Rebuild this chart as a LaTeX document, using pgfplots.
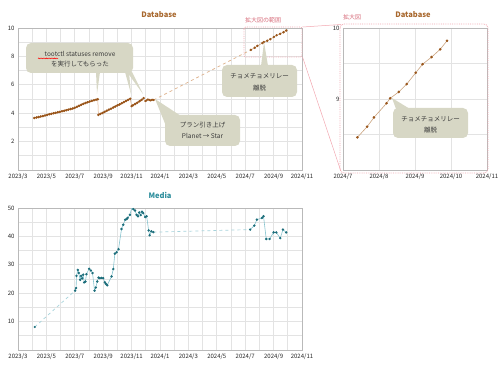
\documentclass[border=0pt]{standalone}
\usepackage{pgfplots}
\pgfplotsset{compat=1.18}
\usepackage{fontspec}
\setmainfont{Noto Sans CJK JP}
\usetikzlibrary{decorations.pathmorphing}
\definecolor{brn}{HTML}{9A561B}
\definecolor{brnline}{HTML}{A8642C}
\definecolor{brnlight}{HTML}{DDB08A}
\definecolor{brnzoom}{HTML}{C9A27E}
\definecolor{brntitle}{HTML}{A8682E}
\definecolor{tealmk}{HTML}{1D6E7B}
\definecolor{tealline}{HTML}{86C3CE}
\definecolor{teallight}{HTML}{A6D3DB}
\definecolor{tealtitle}{HTML}{2A8C9B}
\definecolor{pinkb}{HTML}{F2A7B0}
\definecolor{pinkt}{HTML}{D8707E}
\definecolor{callout}{HTML}{D7D7C5}
\definecolor{ctext}{HTML}{3A3A3A}
\pgfplotsset{
  base/.style={
    scale only axis, width=284pt, height=142pt,
    axis line style={draw=gray!55, line width=0.6pt},
    grid=both,
    major grid style={draw=gray!22, line width=0.7pt},
    minor grid style={draw=gray!22, line width=0.7pt},
    tick style={draw=none},
    tick label style={font=\fontsize{6}{7}\selectfont, text=black!85},
    /pgf/number format/assume math mode=true,
  },
  longx/.style={
    xmin=2, xmax=22,
    xtick={2,4,...,22}, minor xtick={3,5,...,21},
    xticklabels={2023/3,2023/5,2023/7,2023/9,2023/11,2024/1,2024/3,2024/5,2024/7,2024/9,2024/11},
  },
}
\tikzset{ct/.style={font=\fontsize{6.5}{8}\selectfont, text=ctext, anchor=base, inner sep=0pt}}
\begin{document}
\begin{tikzpicture}
\path[use as bounding box] (0,0) rectangle (500pt,375pt);

% ---------- Database (full) ----------
\begin{axis}[base, longx, at={(18pt,205pt)}, anchor=south west,
  ymin=0, ymax=10, ytick={2,4,6,8,10}, minor ytick={1,3,5,7,9}]
\addplot[brnline, line width=0.9pt, mark=*, mark size=0.75pt, mark options={fill=brn, draw=brn}] coordinates {
(3.15,3.66) (3.30,3.70) (3.45,3.73) (3.60,3.77) (3.75,3.80) (3.90,3.84)
(4.05,3.88) (4.20,3.92) (4.35,3.96) (4.50,4.00) (4.65,4.03) (4.80,4.07)
(4.95,4.10) (5.10,4.14) (5.25,4.17) (5.40,4.21) (5.55,4.25) (5.70,4.29)
(5.85,4.33) (6.00,4.38) (6.15,4.45) (6.30,4.52) (6.45,4.59) (6.60,4.66)
(6.75,4.72) (6.90,4.77) (7.05,4.82) (7.20,4.87) (7.35,4.91) (7.50,4.95)
(7.62,4.98)
};
\addplot[brnlight, line width=0.5pt] coordinates {(7.62,4.98) (7.66,3.88)};
\addplot[brnline, line width=0.9pt, mark=*, mark size=0.75pt, mark options={fill=brn, draw=brn}] coordinates {
(7.66,3.88) (7.80,3.95) (7.95,4.02) (8.10,4.10) (8.25,4.17) (8.40,4.25)
(8.55,4.32) (8.70,4.40) (8.85,4.47) (9.00,4.55) (9.15,4.62) (9.30,4.70)
(9.45,4.78) (9.60,4.86) (9.75,4.94) (9.90,5.02)
};
\addplot[brnlight, line width=0.5pt] coordinates {(9.90,5.02) (10.00,4.50)};
\addplot[brnline, line width=0.9pt, mark=*, mark size=0.75pt, mark options={fill=brn, draw=brn}] coordinates {
(10.00,4.50) (10.10,4.56) (10.25,4.65) (10.40,4.74) (10.55,4.84) (10.70,4.94) (10.85,5.06)
};
\addplot[brnline, line width=0.6pt, mark=*, mark size=0.75pt, mark options={fill=brn, draw=brn}] coordinates {
(10.97,4.86) (11.05,4.90) (11.15,4.97) (11.25,4.93) (11.35,4.90) (11.45,4.95) (11.55,4.93)
};
\addplot[brnlight, line width=0.7pt, dashed] coordinates {(11.55,4.93) (18.40,8.46)};
\addplot[brnzoom, line width=0.6pt, mark=*, mark size=0.9pt, mark options={fill=brn, draw=brn}] coordinates {
(18.40,8.46) (18.67,8.61) (18.86,8.74) (19.21,8.94) (19.31,9.01) (19.55,9.10)
(19.77,9.21) (20.02,9.37) (20.21,9.49) (20.46,9.59) (20.70,9.70) (20.89,9.82)
};
\end{axis}

% ---------- Database (zoom) ----------
\begin{axis}[base, at={(343pt,205pt)}, anchor=south west, width=144pt,
  xmin=18, xmax=22, xtick={18,19,20,21,22},
  xticklabels={2024/7,2024/8,2024/9,2024/10,2024/11},
  ymin=8, ymax=10, ytick={9,10}, minor ytick={8.5,9.5}]
\addplot[brnzoom, line width=0.6pt, mark=*, mark size=1pt, mark options={fill=brn, draw=brn}] coordinates {
(18.40,8.46) (18.67,8.61) (18.86,8.74) (19.21,8.94) (19.31,9.01) (19.55,9.10)
(19.77,9.21) (20.02,9.37) (20.21,9.49) (20.46,9.59) (20.70,9.70) (20.89,9.82)
};
\end{axis}

% ---------- Media ----------
\begin{axis}[base, longx, at={(18pt,25pt)}, anchor=south west,
  ymin=0, ymax=50, ytick={10,20,30,40,50}, minor ytick={5,15,25,35,45}]
\addplot[teallight, line width=0.7pt, dashed] coordinates {(3.18,8.1) (6.02,20.9)};
\addplot[teallight, line width=0.7pt, dashed] coordinates {(11.53,41.5) (18.35,42.4)};
\addplot[only marks, mark=*, mark size=0.9pt, mark options={fill=tealmk, draw=tealmk}] coordinates {(3.18,8.1)};
\addplot[tealline, line width=0.6pt, mark=*, mark size=0.9pt, mark options={fill=tealmk, draw=tealmk}] coordinates {
(6.02,20.9) (6.09,21.8) (6.12,26.1) (6.21,28.2) (6.28,27.1) (6.38,24.7)
(6.45,26.1) (6.52,25.2) (6.59,26.5) (6.66,23.8) (6.75,24.1) (6.82,26.7)
(7.01,28.6) (7.13,28.0) (7.25,27.1) (7.39,20.9) (7.48,22.0) (7.58,24.1)
(7.67,25.5) (7.76,25.3) (7.88,25.4) (8.00,25.3) (8.12,23.8) (8.19,23.3)
(8.28,22.8) (8.59,25.9) (8.71,28.5) (8.82,33.9) (8.94,34.4) (9.08,35.5)
(9.29,42.6) (9.41,44.1) (9.55,45.9) (9.65,46.1) (9.72,46.5) (9.88,47.6)
(10.02,50.2) (10.12,49.6) (10.24,49.1) (10.35,47.6) (10.45,47.1) (10.54,48.4)
(10.64,47.5) (10.73,48.7) (10.82,48.2) (10.96,46.8) (11.06,47.1) (11.20,42.1)
(11.27,40.4) (11.39,41.8) (11.53,41.5)
};
\addplot[tealline, line width=0.6pt, mark=*, mark size=0.9pt, mark options={fill=tealmk, draw=tealmk}] coordinates {
(18.35,42.4) (18.64,43.8) (18.82,45.9) (19.18,46.5) (19.29,47.1) (19.48,39.1)
(19.72,39.1) (20.00,41.4) (20.19,41.4) (20.47,39.4) (20.66,42.4) (20.89,41.4)
};
\end{axis}

% ---------- annotations in pixel coordinates ----------
\begin{scope}[yshift=375pt, x=1pt, y=-1pt]
  % titles
  \node[font=\fontsize{7.5}{9}\selectfont\bfseries, text=brntitle] at (159,15) {Database};
  \node[font=\fontsize{7.5}{9}\selectfont\bfseries, text=brntitle] at (413,15) {Database};
  \node[font=\fontsize{7.5}{9}\selectfont\bfseries, text=tealtitle] at (160,195) {Media};
  % zoom region markers
  \draw[pinkb, line width=0.8pt, densely dotted, rounded corners=2pt] (244,27) rectangle (302,57);
  \draw[pinkb, line width=0.8pt, densely dotted, rounded corners=4pt] (340,24) rectangle (488,173);
  \draw[pinkb, line width=0.5pt] (302.5,27) -- (341,24.5);
  \draw[pinkb, line width=0.5pt] (302.5,57) -- (340.5,170);
  \node[font=\fontsize{6}{7}\selectfont, text=pinkt] at (263,20) {拡大図の範囲};
  \node[font=\fontsize{6}{7}\selectfont, text=pinkt] at (352,17) {拡大図};
  % callout 1
  \fill[callout] (96,72) -- (97,94) -- (100,72) -- cycle;
  \fill[callout] (125,72) -- (131,94) -- (129,72) -- cycle;
  \fill[callout] (127,72) -- (143,94) -- (132,72) -- cycle;
  \fill[callout, rounded corners=5pt] (26,43) rectangle (133,73);
  \node[ct] at (80,57) {tootctl statuses remove};
  \node[ct] at (80,67) {を実行してもらった};
  % callout 2
  \fill[callout] (155,99) -- (181,116) -- (166,126) -- cycle;
  \fill[callout, rounded corners=5pt] (165,115) rectangle (240,146);
  \node[ct] at (202.5,128) {プラン引き上げ};
  \node[ct] at (202.5,139) {Planet → Star};
  % callout 3
  \fill[callout] (261,66) -- (264,42) -- (268,66) -- cycle;
  \fill[callout, rounded corners=5pt] (222,65) rectangle (297,97);
  \node[ct] at (259.5,79) {チョメチョメリレー};
  \node[ct] at (259.5,90.5) {離脱};
  % callout 4
  \fill[callout] (396,109) -- (392,98) -- (410,109) -- cycle;
  \fill[callout, rounded corners=5pt] (393,108) rectangle (468,138);
  \node[ct] at (430.5,122) {チョメチョメリレー};
  \node[ct] at (430.5,132.5) {離脱};
\end{scope}
% red wavy spell-check underline under "tootctl" (canvas coordinates)
\draw[red, line width=0.4pt, decorate, decoration={snake, amplitude=0.4pt, segment length=1.6pt}] (38pt,316.6pt) -- (58pt,316.6pt);
\end{tikzpicture}
\end{document}
